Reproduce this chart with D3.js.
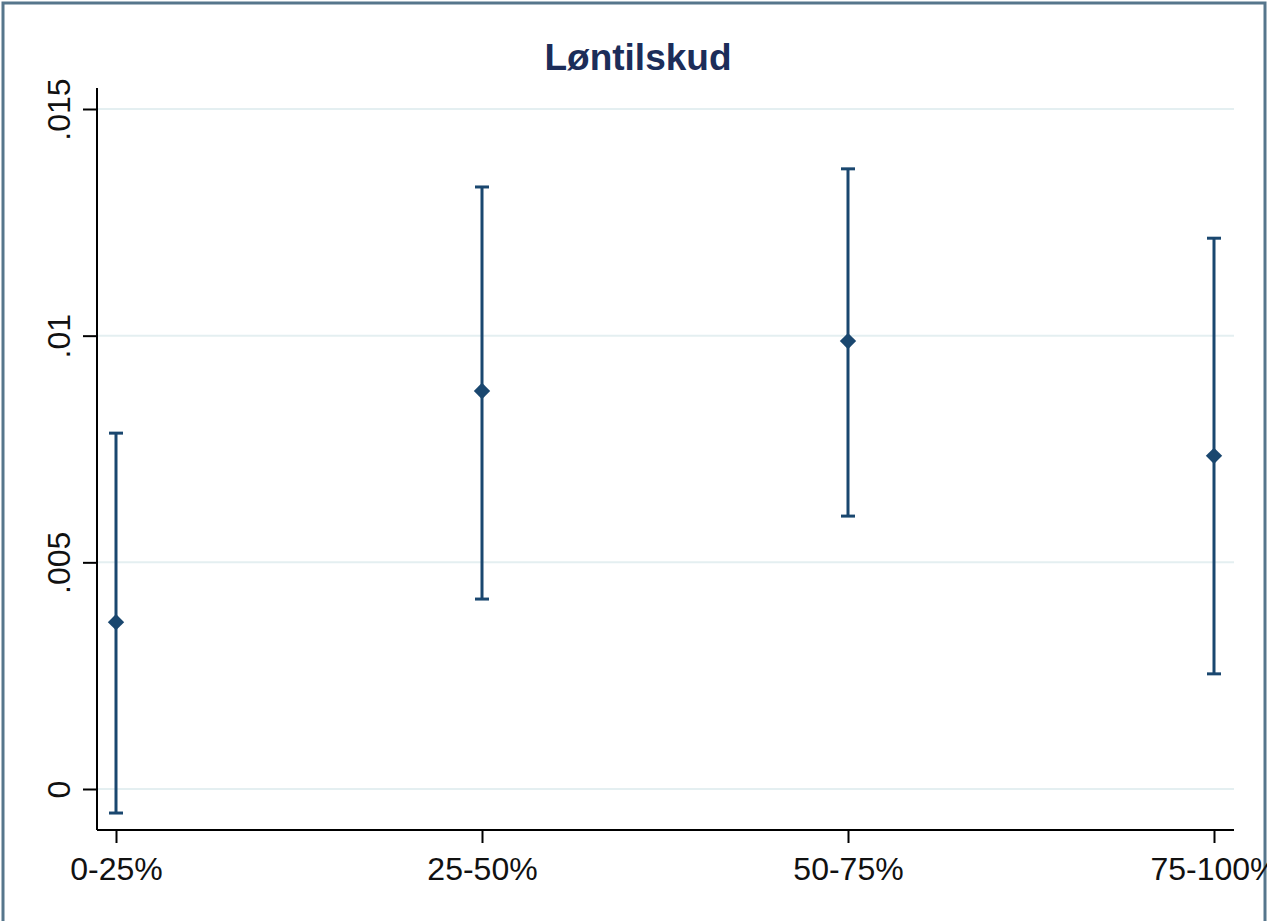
<!DOCTYPE html>
<meta charset="utf-8">
<style>
body {
  margin: 0;
  background: #fff;
}
.frame {
  fill: none;
  stroke: #56768c;
  stroke-width: 3;
}
.grid line {
  stroke: #e4eff1;
  stroke-width: 2;
}
.axis path,
.axis line {
  stroke: #000;
  stroke-width: 2;
}
.axis text {
  font-family: "Liberation Sans", Arial, sans-serif;
  font-size: 32px;
  fill: #111;
}
.title {
  font-family: "Liberation Sans", Arial, sans-serif;
  font-weight: bold;
  font-size: 37px;
  fill: #1c2d59;
}
.bar {
  stroke: #1a476f;
  stroke-width: 3;
}
.point {
  fill: #1a476f;
}
</style>
<svg width="1267" height="921"></svg>
<script src="https://d3js.org/d3.v7.min.js"></script>
<script>

// quartile groups and estimates with 95% CI
var groups = ["0-25%", "25-50%", "50-75%", "75-100%"],
    estimate = [0.00368, 0.00878, 0.00988, 0.00735],
    lower = [-0.00053, 0.00419, 0.00602, 0.00254],
    upper = [0.00785, 0.01328, 0.01368, 0.01215],
    yTicks = [0, 0.005, 0.01, 0.015],
    yTickLabels = ["0", ".005", ".01", ".015"];

var svg = d3.select("svg"),
    plot = { left: 97, right: 1234, top: 88, bottom: 830 };

svg.append("rect")
  .attr("class", "frame")
  .attr("x", 3)
  .attr("y", 3)
  .attr("width", 1262)
  .attr("height", 940);

var x = d3.scalePoint()
    .domain(groups)
    .range([116, 1214]);

var y = d3.scaleLinear()
    .domain([0, 0.015])
    .range([789, 109]);

svg.append("text")
  .attr("class", "title")
  .attr("x", 638)
  .attr("y", 70)
  .attr("text-anchor", "middle")
  .text("Løntilskud");

// gridlines
svg.append("g")
  .attr("class", "grid")
  .selectAll("line")
  .data(yTicks)
  .join("line")
  .attr("x1", plot.left)
  .attr("x2", plot.right)
  .attr("y1", d => y(d))
  .attr("y2", d => y(d));

// y axis
var yAxis = svg.append("g")
  .attr("class", "axis")
  .attr("transform", "translate(" + plot.left + ",0)")
  .call(d3.axisLeft(y)
    .tickValues(yTicks)
    .tickFormat((d, i) => yTickLabels[i])
    .tickSize(14)
    .tickSizeOuter(0));
yAxis.select(".domain")
  .attr("d", "M0," + plot.top + "V" + plot.bottom);
yAxis.selectAll("text")
  .attr("x", null)
  .attr("dy", null)
  .attr("text-anchor", "middle")
  .attr("transform", "translate(-27,0) rotate(-90)");

// x axis
var xAxis = svg.append("g")
  .attr("class", "axis")
  .attr("transform", "translate(0," + plot.bottom + ")")
  .call(d3.axisBottom(x)
    .tickSize(13)
    .tickSizeOuter(0));
xAxis.select(".domain")
  .attr("d", "M" + plot.left + ",0H" + plot.right);
xAxis.selectAll("text")
  .attr("y", 27)
  .attr("dy", "0.71em");

// error bars
var bars = svg.append("g")
  .selectAll("g")
  .data(groups)
  .join("g")
  .attr("class", "bar");

bars.append("line")
  .attr("x1", d => x(d))
  .attr("x2", d => x(d))
  .attr("y1", (d, i) => y(lower[i]))
  .attr("y2", (d, i) => y(upper[i]));

bars.append("line")
  .attr("x1", d => x(d) - 7)
  .attr("x2", d => x(d) + 7)
  .attr("y1", (d, i) => y(lower[i]))
  .attr("y2", (d, i) => y(lower[i]));

bars.append("line")
  .attr("x1", d => x(d) - 7)
  .attr("x2", d => x(d) + 7)
  .attr("y1", (d, i) => y(upper[i]))
  .attr("y2", (d, i) => y(upper[i]));

svg.append("g")
  .selectAll("path")
  .data(groups)
  .join("path")
  .attr("class", "point")
  .attr("transform", (d, i) => "translate(" + x(d) + "," + y(estimate[i]) + ")")
  .attr("d", d3.symbol(d3.symbolDiamond2, 170));

</script>
